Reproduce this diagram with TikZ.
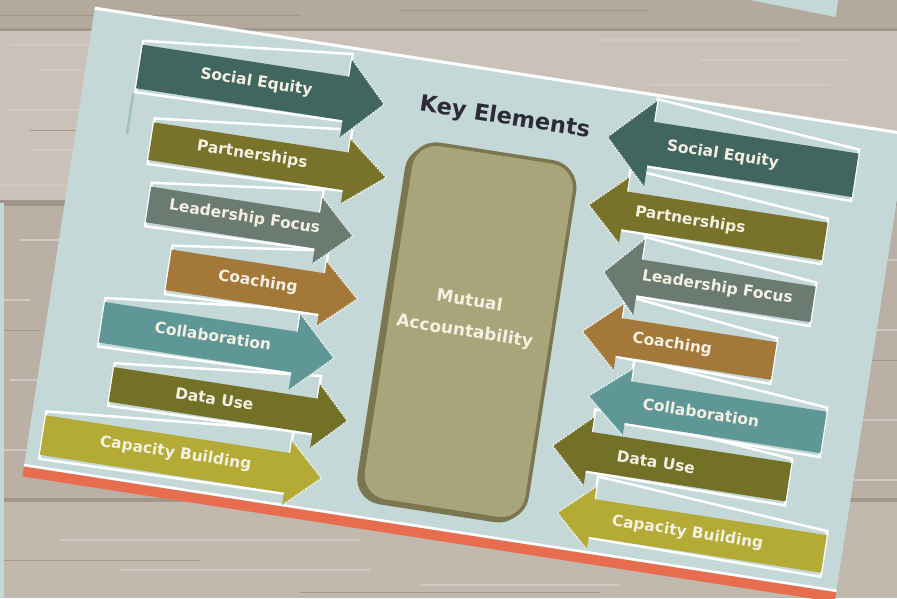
\documentclass[tikz,border=0pt]{standalone}
\usepackage{fontspec}
\newfontfamily\djv{DejaVu Sans}
\definecolor{card}{HTML}{C4D8D7}
\definecolor{cTealD}{HTML}{41655F}
\definecolor{cOlive}{HTML}{78722A}
\definecolor{cGrey}{HTML}{6B7B72}
\definecolor{cBrown}{HTML}{A47838}
\definecolor{cTeal}{HTML}{5F9796}
\definecolor{cOliveD}{HTML}{737027}
\definecolor{cMust}{HTML}{B3AB35}
\definecolor{boxfill}{HTML}{A8A57A}
\definecolor{boxdark}{HTML}{7B7550}
\definecolor{redstrip}{HTML}{E86C4E}
\definecolor{lbltext}{HTML}{F4F0E2}
\definecolor{titletext}{HTML}{2D2B38}
\definecolor{headedge}{HTML}{E6ECEA}
\definecolor{woodA}{HTML}{B3A99C}
\definecolor{woodB}{HTML}{CAC2B9}
\definecolor{woodC}{HTML}{BAB0A5}
\definecolor{woodD}{HTML}{C1B8AE}
\definecolor{woodLine}{HTML}{A0968A}
\definecolor{woodLight}{HTML}{D0C9C1}
\definecolor{artline}{HTML}{A0C2C0}
\tikzset{
  framew/.style={draw=white, line width=2.5pt, line join=miter},
  headline/.style={draw=headedge, line width=1.6pt, dash pattern=on 2pt off 1pt},
  lbl/.style={text=lbltext, font=\djv\bfseries\fontsize{15.5}{18}\selectfont, rotate=-8.8, inner sep=0pt, anchor=center},
  grain/.style={draw=woodLight, line width=1.2pt},
  graind/.style={draw=woodLine, line width=1pt},
}
% #1 tail end a, #2 head base a, #4 body top b, #5 body bottom b
\newcommand{\KFrame}[5]{%
  \draw[framew] ({#1},{#4-4}) -- ({#2},{#4-23}) -- ({#2},{#5+1}) -- ({#1},{#5+4}) -- cycle;
}
% #1 tail end a, #2 head base a, #3 tip a, #4 body top b, #5 body bottom b, #6 head half height, #7 colour
\newcommand{\KArrow}[7]{%
  \fill[#7] (#1,#4) -- (#2,#4) -- (#2,{(#4+#5)/2-#6}) -- (#3,{(#4+#5)/2}) -- (#2,{(#4+#5)/2+#6}) -- (#2,#5) -- (#1,#5) -- cycle;
  \draw[headline] (#2,{(#4+#5)/2-#6}) -- (#3,{(#4+#5)/2}) -- (#2,{(#4+#5)/2+#6});
}
\begin{document}
\begin{tikzpicture}[x=1pt,y=1pt]
\useasboundingbox (0,0) rectangle (897,-598);
% wooden background
\fill[woodC] (0,0) rectangle (897,-598);
\fill[woodA] (0,0) rectangle (897,-28);
\fill[woodLine] (0,-28) rectangle (897,-31);
\fill[woodB] (0,-31) rectangle (897,-200);
\fill[woodLine] (0,-200) rectangle (897,-206);
\fill[woodC] (0,-206) rectangle (897,-498);
\fill[woodLine] (0,-498) rectangle (897,-502);
\fill[woodD] (0,-502) rectangle (897,-598);
\foreach \xa/\ya/\len in {10/45/120, 40/70/90, 5/110/140, 30/150/100, 0/185/80, 600/40/200, 700/60/150, 650/85/180, 20/240/40, 0/300/30, 10/380/50, 0/450/45, 60/540/300, 120/570/250, 420/585/200, 840/200/57, 845/260/52, 840/330/57, 850/420/47, 845/480/52}
  \draw[grain] (\xa,-\ya) -- ++(\len,0);
\foreach \xa/\ya/\len in {0/15/300, 400/10/250, 30/130/120, 0/330/40, 840/360/57, 0/560/200, 300/592/300}
  \draw[graind] (\xa,-\ya) -- ++(\len,0);
% neighbouring cards
\fill[card] (750,0) -- (836,-17) -- (838,0) -- cycle;
\fill[card] (0,-203) rectangle (4,-598);
% main card
\begin{scope}[shift={(95,-7)}, rotate=-8.8, yscale=-1]
  \fill[card] (0,0) rectangle (822,464);
  \fill[redstrip] (0,465) rectangle (822,475);
  \draw[white, line width=3pt] (0,1.2) -- (822,1.2);
  \draw[white, line width=2.5pt] (0,463.5) -- (822,463.5);
  % title
  \node[font=\djv\bfseries\fontsize{22.5}{26}\selectfont, text=titletext, rotate=-8.8, inner sep=0pt] (title) at (422,47) {Key Elements};
  % centre box
  \fill[boxdark, rounded corners=26pt] (331,86) rectangle (500,448);
  \draw[fill=boxfill, draw=boxdark, line width=3.5pt, rounded corners=26pt] (336,83) rectangle (502,444);
  \node[font=\djv\bfseries\fontsize{17}{31}\selectfont, text=lbltext, rotate=-8.8, align=center, inner sep=0pt] (mutual) at (415,249) {Mutual\\Accountability};
  % small artefact line
  \draw[artline, line width=2.5pt] (51,79) -- (51,121);
  % frames (behind all arrows)
  \KFrame{53}{262}{301}{30}{74}
  \KFrame{76}{273}{314}{105}{143}
  \KFrame{83}{254}{290}{169}{205}
  \KFrame{113}{268}{304}{228}{269}
  \KFrame{55}{250}{290}{290}{331}
  \KFrame{74}{280}{313}{353}{388}
  \KFrame{14}{261}{296}{411}{451}
  \KFrame{777}{570}{526}{28}{72}
  \KFrame{757}{554}{518}{101}{139}
  \KFrame{755}{579}{543}{166}{202}
  \KFrame{725}{568}{531}{227}{265}
  \KFrame{785}{587}{547}{288}{330}
  \KFrame{758}{556}{519}{344}{383}
  \KFrame{804}{569}{534}{410}{448}
  % left arrows
  \KArrow{53}{262}{301}{30}{74}{40}{cTealD}
  \KArrow{76}{273}{314}{105}{143}{33}{cOlive}
  \KArrow{83}{254}{290}{169}{205}{34}{cGrey}
  \KArrow{113}{268}{304}{228}{269}{33}{cBrown}
  \KArrow{55}{250}{290}{290}{331}{39}{cTeal}
  \KArrow{74}{280}{313}{353}{388}{33}{cOliveD}
  \KArrow{14}{261}{296}{411}{451}{33}{cMust}
  % right arrows
  \KArrow{777}{570}{526}{28}{72}{44}{cTealD}
  \KArrow{757}{554}{518}{101}{139}{34}{cOlive}
  \KArrow{755}{579}{543}{166}{202}{39}{cGrey}
  \KArrow{725}{568}{531}{227}{265}{34}{cBrown}
  \KArrow{785}{587}{547}{288}{330}{34}{cTeal}
  \KArrow{758}{556}{519}{344}{383}{35}{cOliveD}
  \KArrow{804}{569}{534}{410}{448}{32}{cMust}
  % labels left
  \node[lbl] (l1) at (171,50) {Social Equity};
  \node[lbl] (l2) at (178,122) {Partnerships};
  \node[lbl] (l3) at (180,185) {Leadership Focus};
  \node[lbl] (l4) at (203,247) {Coaching};
  \node[lbl] (l5) at (167,307) {Collaboration};
  \node[lbl] (l6) at (178,369) {Data Use};
  \node[lbl] (l7) at (148,429) {Capacity Building};
  % labels right
  \node[lbl] (r1) at (643,50) {Social Equity};
  \node[lbl] (r2) at (621,120) {Partnerships};
  \node[lbl] (r3) at (658,182) {Leadership Focus};
  \node[lbl] (r4) at (622,245) {Coaching};
  \node[lbl] (r5) at (661,308) {Collaboration};
  \node[lbl] (r6) at (624,364) {Data Use};
  \node[lbl] (r7) at (666,429) {Capacity Building};
\end{scope}
\end{tikzpicture}
\end{document}
